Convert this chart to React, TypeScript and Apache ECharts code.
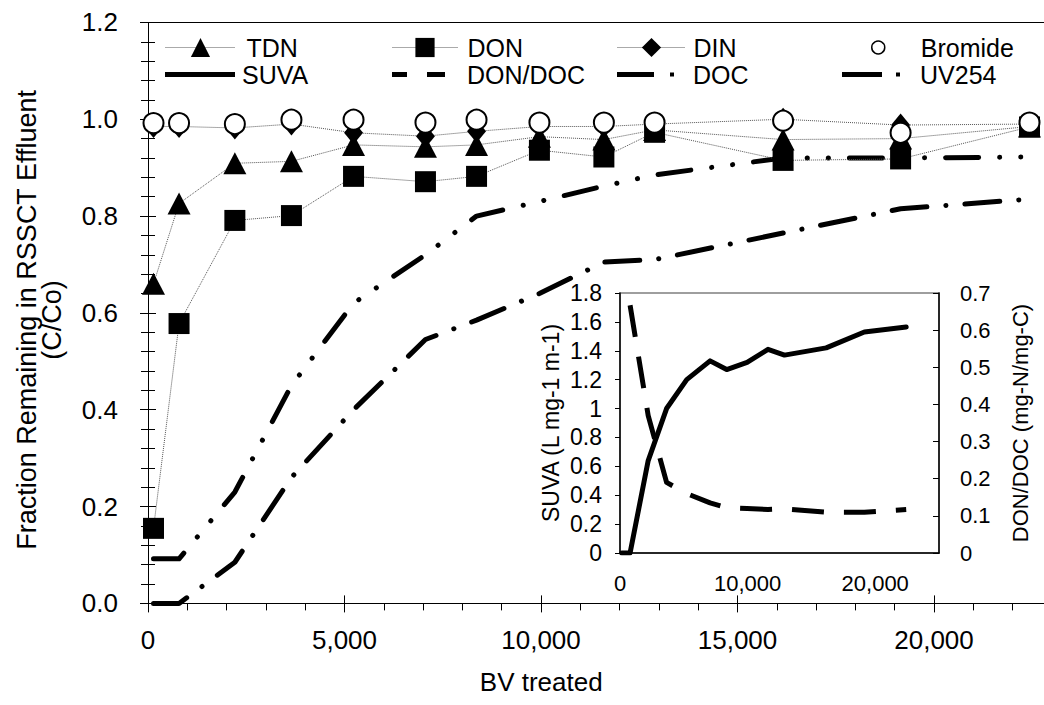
import { useEffect, useRef } from 'react';
import * as echarts from 'echarts';

// ---- data ----
const bvTreated = [140, 790, 2210, 3650, 5230, 7060, 8360, 9960, 11600, 12890, 16160, 19150, 22430];
const tdn = [0.66, 0.826, 0.909, 0.913, 0.947, 0.943, 0.947, 0.964, 0.958, 0.978, 0.958, 0.96, 0.985];
const don = [0.155, 0.578, 0.791, 0.801, 0.882, 0.871, 0.882, 0.936, 0.922, 0.973, 0.915, 0.918, 0.984];
const din = [0.985, 0.985, 0.982, 0.99, 0.972, 0.965, 0.975, 0.985, 0.985, 0.99, 1.0, 0.988, 0.99];
const bromide = [0.992, 0.992, 0.99, 0.999, 0.999, 0.993, 0.999, 0.993, 0.993, 0.993, 0.997, 0.972, 0.993];
const doc = [0.092, 0.092, 0.23, 0.45, 0.62, 0.72, 0.8, 0.83, 0.862, 0.885, 0.92, 0.92, 0.922];
const uv254 = [0, 0, 0.085, 0.26, 0.4, 0.545, 0.585, 0.64, 0.705, 0.71, 0.765, 0.815, 0.835];
const suva = [0, 0, 0.64, 1.0, 1.2, 1.33, 1.27, 1.32, 1.41, 1.37, 1.42, 1.53, 1.565];
const donDoc = [null, 0.667, 0.37, 0.19, 0.16, 0.135, 0.122, 0.12, 0.117, 0.119, 0.11, 0.11, 0.117];

const mainYTicks = [0, 1.2, 0.2];
const mainXTicks = [0, 25000, 5000];
const insetSuvaTicks = [0, 1.8, 0.2];
const insetRatioTicks = [0, 0.7, 0.1];
const insetXTicks = [0, 25000, 10000];

const FONT = 'Arial, "Liberation Sans", Helvetica, sans-serif';

const pts = (ys: (number | null)[]) => bvTreated.map((x, i) => [x, ys[i]]);
const fmtThousands = (v: number) => String(v).replace(/\B(?=(\d{3})+(?!\d))/g, ',');

export default function App() {
  const ref = useRef<HTMLDivElement>(null);

  useEffect(() => {
    if (!ref.current) return;
    const chart = echarts.init(ref.current, null, { renderer: 'svg' });

    const legendText = (pad: number) => ({
      fontFamily: FONT,
      fontSize: 25,
      lineHeight: 24,
      color: '#000',
      padding: [0, 0, 0, pad],
    });

    const mkLegend = (name: string, left: number, rowY: number, w: number, h: number, pad: number, extra: any = {}) => ({
      data: [name],
      left,
      top: rowY - 12,
      padding: 0,
      itemWidth: w,
      itemHeight: h,
      selectedMode: false,
      textStyle: legendText(pad),
      ...extra,
    });

    const connector = { color: '#555', width: 1, type: 'dotted' as const };
    const legendConnector = { width: 1, type: 'dotted', color: '#555' };

    const option: any = {
      animation: false,
      backgroundColor: '#fff',
      legend: [
        mkLegend('TDN', 165, 47, 70, 24, 6, { lineStyle: legendConnector }),
        mkLegend('DON', 392, 47, 65, 24, 5, { lineStyle: legendConnector }),
        mkLegend('DIN', 617, 47, 68, 24, 3, { lineStyle: legendConnector }),
        mkLegend('Bromide', 871, 47, 13, 13, 31, {
          itemStyle: { color: '#fff', borderColor: '#000', borderWidth: 1.5, opacity: 1 },
        }),
        mkLegend('SUVA', 165, 74, 70, 5, 2, {
          data: [{ name: 'SUVA', icon: 'path://M0,0H70V5H0Z' }],
          itemStyle: { color: '#000', borderWidth: 0 },
        }),
        mkLegend('DON/DOC', 392, 74, 53, 5, 17, {
          data: [{ name: 'DON/DOC', icon: 'path://M0,0H15V5H0Z M35,0H53V5H35Z' }],
          itemStyle: { color: '#000', borderWidth: 0 },
        }),
        mkLegend('DOC', 617, 74, 57, 5, 14, {
          data: [{ name: 'DOC', icon: 'path://M0,0H37V5H0Z M53,0.5H57V4.5H53Z' }],
          itemStyle: { color: '#000', borderWidth: 0 },
        }),
        mkLegend('UV254', 842, 74, 58, 5, 15, {
          data: [{ name: 'UV254', icon: 'path://M0,0H40V5H0Z M54,0.5H58V4.5H54Z' }],
          itemStyle: { color: '#000', borderWidth: 0 },
        }),
      ],
      grid: [
        { left: 148, top: 22.4, width: 982.5, height: 581 },
        { left: 620, top: 293, width: 319, height: 260, show: true, borderColor: '#7f7f7f', borderWidth: 1.5, backgroundColor: 'transparent' },
      ],
      xAxis: [
        {
          type: 'value', gridIndex: 0, position: 'bottom',
          min: mainXTicks[0], max: mainXTicks[1], interval: mainXTicks[2],
          name: 'BV treated', nameLocation: 'middle', nameGap: 66,
          nameTextStyle: { fontFamily: FONT, fontSize: 26, color: '#000', padding: [0, 196, 0, 0] },
          axisLine: { show: true, onZero: false, lineStyle: { color: '#000', width: 1 } },
          axisTick: { show: true, inside: false, length: 9, lineStyle: { color: '#000' } },
          minorTick: { show: true, splitNumber: 5, length: 7, lineStyle: { color: '#000' } },
          axisLabel: {
            margin: 24, fontFamily: FONT, fontSize: 26, color: '#000',
            formatter: (v: number) => (v <= 20000 ? fmtThousands(v) : ''),
          },
          splitLine: { show: false },
        },
        {
          type: 'value', gridIndex: 0, position: 'bottom',
          min: mainXTicks[0], max: mainXTicks[1], interval: mainXTicks[2],
          axisLine: { show: false, onZero: false },
          axisTick: { show: true, inside: true, length: 8, lineStyle: { color: '#000' } },
          axisLabel: { show: false },
          splitLine: { show: false },
        },
        {
          type: 'value', gridIndex: 0, position: 'top',
          min: mainXTicks[0], max: mainXTicks[1], interval: mainXTicks[2],
          axisLine: { show: true, onZero: false, lineStyle: { color: '#000', width: 1 } },
          axisTick: { show: false },
          axisLabel: { show: false },
          splitLine: { show: false },
        },
        {
          type: 'value', gridIndex: 1, position: 'bottom',
          min: insetXTicks[0], max: insetXTicks[1], interval: insetXTicks[2],
          axisLine: { show: true, onZero: false, lineStyle: { color: '#000', width: 1.5 } },
          axisTick: { show: false },
          axisLabel: {
            margin: 19, fontFamily: FONT, fontSize: 22, color: '#000',
            formatter: (v: number) => (v % 10000 === 0 ? fmtThousands(v) : ''),
          },
          splitLine: { show: false },
        },
      ],
      yAxis: [
        {
          type: 'value', gridIndex: 0, position: 'left',
          min: mainYTicks[0], max: mainYTicks[1], interval: mainYTicks[2],
          name: 'Fraction Remaining in RSSCT Effluent\n(C/Co)',
          nameLocation: 'middle', nameGap: 84, nameRotate: 90,
          nameTextStyle: { fontFamily: FONT, fontSize: 27, lineHeight: 25, color: '#000', align: 'center', padding: [0, 14, 0, 0] },
          axisLine: { show: true, onZero: false, lineStyle: { color: '#000', width: 1 } },
          axisTick: { show: true, inside: false, length: 8, lineStyle: { color: '#000' } },
          minorTick: { show: true, splitNumber: 5, length: 7, lineStyle: { color: '#000' } },
          axisLabel: {
            margin: 30, fontFamily: FONT, fontSize: 26, color: '#000',
            formatter: (v: number) => v.toFixed(1),
          },
          splitLine: { show: false },
        },
        {
          type: 'value', gridIndex: 0, position: 'left',
          min: mainYTicks[0], max: mainYTicks[1], interval: mainYTicks[2],
          axisLine: { show: false, onZero: false },
          axisTick: { show: true, inside: true, length: 8, lineStyle: { color: '#000' } },
          minorTick: { show: true, splitNumber: 5, length: 7, lineStyle: { color: '#000' } },
          axisLabel: { show: false },
          splitLine: { show: false },
        },
        {
          type: 'value', gridIndex: 1, position: 'left',
          min: insetSuvaTicks[0], max: insetSuvaTicks[1], interval: insetSuvaTicks[2],
          name: 'SUVA (L mg-1 m-1)', nameLocation: 'middle', nameGap: 58, nameRotate: 90,
          nameTextStyle: { fontFamily: FONT, fontSize: 23, color: '#000' },
          axisLine: { show: true, onZero: false, lineStyle: { color: '#000', width: 1.5 } },
          axisTick: { show: true, inside: false, length: 5, lineStyle: { color: '#000' } },
          axisLabel: { margin: 18, fontFamily: FONT, fontSize: 23, color: '#000' },
          splitLine: { show: false },
        },
        {
          type: 'value', gridIndex: 1, position: 'right',
          min: insetRatioTicks[0], max: insetRatioTicks[1], interval: insetRatioTicks[2],
          name: 'DON/DOC (mg-N/mg-C)', nameLocation: 'middle', nameGap: 70, nameRotate: 90,
          nameTextStyle: { fontFamily: FONT, fontSize: 22, color: '#000' },
          axisLine: { show: true, onZero: false, lineStyle: { color: '#000', width: 1.5 } },
          axisTick: { show: true, inside: true, length: 6, lineStyle: { color: '#000' } },
          axisLabel: { margin: 21, fontFamily: FONT, fontSize: 22, color: '#000' },
          splitLine: { show: false },
        },
      ],
      series: [
        {
          name: 'TDN', type: 'line', xAxisIndex: 0, yAxisIndex: 0, data: pts(tdn),
          symbol: 'triangle', symbolSize: [23, 22], z: 3,
          itemStyle: { color: '#000', opacity: 1 }, lineStyle: connector,
        },
        {
          name: 'DON', type: 'line', xAxisIndex: 0, yAxisIndex: 0, data: pts(don),
          symbol: 'rect', symbolSize: 21, z: 3,
          itemStyle: { color: '#000', opacity: 1 }, lineStyle: connector,
        },
        {
          name: 'DIN', type: 'line', xAxisIndex: 0, yAxisIndex: 0, data: pts(din),
          symbol: 'diamond', symbolSize: [19, 23], z: 3,
          itemStyle: { color: '#000', opacity: 1 }, lineStyle: connector,
        },
        {
          name: 'Bromide', type: 'scatter', xAxisIndex: 0, yAxisIndex: 0, data: pts(bromide),
          symbol: 'circle', symbolSize: 20, z: 5,
          itemStyle: { color: '#fff', borderColor: '#000', borderWidth: 2, opacity: 1 },
        },
        {
          name: 'SUVA', type: 'line', xAxisIndex: 3, yAxisIndex: 2, data: pts(suva),
          symbol: 'none', showSymbol: false, z: 4,
          itemStyle: { color: '#000' },
          lineStyle: { color: '#000', width: 5, type: 'solid', cap: 'round', join: 'round' },
        },
        {
          name: 'DON/DOC', type: 'line', xAxisIndex: 3, yAxisIndex: 3, data: pts(donDoc),
          symbol: 'none', showSymbol: false, z: 4,
          itemStyle: { color: '#000' },
          lineStyle: { color: '#000', width: 5, type: [32, 20], cap: 'butt', join: 'round' },
        },
        {
          name: 'DOC', type: 'line', xAxisIndex: 0, yAxisIndex: 0, data: pts(doc),
          symbol: 'none', showSymbol: false, z: 2,
          itemStyle: { color: '#000' },
          lineStyle: { color: '#000', width: 5, type: [33, 21, 0.1, 21, 0.1, 21], cap: 'round', join: 'round' },
        },
        {
          name: 'UV254', type: 'line', xAxisIndex: 0, yAxisIndex: 0, data: pts(uv254),
          symbol: 'none', showSymbol: false, z: 2,
          itemStyle: { color: '#000' },
          lineStyle: { color: '#000', width: 5, type: [35, 19, 0.1, 19], cap: 'round', join: 'round' },
        },
      ],
    };

    chart.setOption(option);
    return () => chart.dispose();
  }, []);

  return (
    <div style={{ position: 'fixed', left: 0, top: 0, width: 1044, height: 705, overflow: 'hidden', background: '#fff' }}>
      <div ref={ref} style={{ width: 1140, height: 705 }} />
    </div>
  );
}
